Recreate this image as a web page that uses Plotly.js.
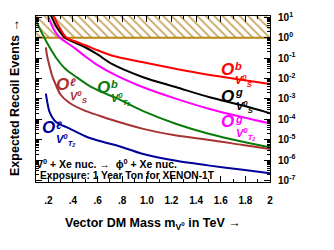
<!DOCTYPE html>
<html>
<head>
<meta charset="utf-8">
<script src="https://cdn.plot.ly/plotly-3.0.1.min.js"></script>
<style>html,body{margin:0;padding:0;background:#fff;}#chart{width:334px;height:250px;}</style>
</head>
<body>
<div id="chart"></div>
<script>
// ---- data (vector DM mass in TeV, expected recoil events per ton-year) ----
const redMass     = [0.24, 0.29, 0.343, 0.425, 0.506, 0.6, 0.72, 0.97, 1.24, 1.51, 1.78, 2.0];
const redEvents   = [12.6, 3.2, 1.05, 0.63, 0.41, 0.24, 0.13, 0.062, 0.029, 0.0148, 0.0085, 0.0054];

const blackMass   = [0.22, 0.27, 0.33, 0.425, 0.506, 0.6, 0.72, 0.97, 1.24, 1.51, 1.78, 2.0];
const blackEvents = [12.6, 3.2, 1.05, 0.54, 0.32, 0.15, 0.05, 0.0115, 0.0037, 0.0012, 4.7e-4, 2.0e-4];

const magentaMass   = [0.19, 0.24, 0.29, 0.36, 0.425, 0.506, 0.587, 0.75, 0.97, 1.24, 1.51, 1.78, 2.0];
const magentaEvents = [15.8, 2.8, 1.05, 0.52, 0.275, 0.112, 0.051, 0.0141, 0.0037, 1.0e-3, 3.2e-4, 1.26e-4, 6.3e-5];

const greenMass   = [0.10, 0.15, 0.21, 0.26, 0.34, 0.43, 0.53, 0.64, 0.75, 0.97, 1.24, 1.51, 1.78, 2.0];
const greenEvents = [6.8, 1.58, 0.34, 0.11, 0.029, 0.0115, 0.0045, 0.0021, 0.00112, 2.5e-4, 5.9e-5, 1.9e-5, 7.9e-6, 4.3e-6];

const brownMass   = [0.18, 0.19, 0.21, 0.23, 0.26, 0.3, 0.37, 0.5, 0.6, 0.7, 0.97, 1.24, 1.51, 1.78, 2.0];
const brownEvents = [0.33, 0.126, 0.04, 0.0141, 0.005, 0.0016, 6.5e-4, 2.6e-4, 1.6e-4, 1.0e-4, 3.4e-5, 1.6e-5, 9.8e-6, 5.5e-6, 3.5e-6];

const blueMass    = [0.18, 0.19, 0.21, 0.26, 0.37, 0.5, 0.64, 0.75, 0.97, 1.24, 1.51, 1.78, 2.0];
const blueEvents  = [1.8e-3, 7.9e-4, 2.3e-4, 7.6e-5, 3.6e-5, 1.48e-5, 7.9e-6, 5.4e-6, 2.0e-6, 9.3e-7, 5.4e-7, 3.4e-7, 2.3e-7];

// excluded region (>= 1 event)
const bandMass   = [0.1, 2.0, 2.0, 0.1];
const bandEvents = [1, 1, 100, 100];
const bandLineMass = [0.1, 2.0];
const bandLineEvents = [1, 1];

// tick labels
const xTickVals = [0.2, 0.4, 0.6, 0.8, 1.0, 1.2, 1.4, 1.6, 1.8, 2.0];
const xTickText = [".2", ".4", ".6", ".8", "1.0", "1.2", "1.4", "1.6", "1.8", "2"];
const yTickVals = [1e1, 1e0, 1e-1, 1e-2, 1e-3, 1e-4, 1e-5, 1e-6, 1e-7];
const yTickText = ["10<sup>1</sup>", "10<sup>0</sup>", "10<sup>-1</sup>", "10<sup>-2</sup>", "10<sup>-3</sup>",
                   "10<sup>-4</sup>", "10<sup>-5</sup>", "10<sup>-6</sup>", "10<sup>-7</sup>"];

// ---- figure ----
const FONT = "Liberation Sans, Arial, sans-serif";
const L = 36, R = 270, T = 16, B = 182;
const px = x => (x - L) / (R - L);
const py = y => (B - y) / (B - T);

function curve(x, y, color) {
  return {x: x, y: y, type: 'scatter', mode: 'lines', line: {color: color, width: 2, shape: 'spline', smoothing: 0.8},
          hoverinfo: 'skip', showlegend: false};
}

const traces = [
  {x: bandMass, y: bandEvents, type: 'scatter', mode: 'none', fill: 'toself', fillcolor: 'rgba(0,0,0,0)',
   fillpattern: {shape: '\\', fgcolor: '#c9a45c', bgcolor: '#ffffff', size: 6, solidity: 0.3},
   hoverinfo: 'skip', showlegend: false},
  {x: bandLineMass, y: bandLineEvents, type: 'scatter', mode: 'lines', line: {color: '#b8891a', width: 2},
   hoverinfo: 'skip', showlegend: false},
  curve(greenMass, greenEvents, '#0a7a0a'),
  curve(brownMass, brownEvents, '#a83232'),
  curve(blueMass, blueEvents, '#00009a'),
  curve(magentaMass, magentaEvents, '#ff00ff'),
  curve(blackMass, blackEvents, '#000000'),
  curve(redMass, redEvents, '#ff0000'),
];

function lab(x, y, text, color, size, anchor) {
  return {xref: 'paper', yref: 'paper', x: px(x), y: py(y), text: text, showarrow: false,
          xanchor: anchor || 'left', yanchor: 'middle', align: 'left', borderpad: 0,
          font: {family: FONT, size: size, color: color, weight: 'bold', style: 'italic'}};
}
function plain(x, y, text, size, anchor) {
  return {xref: 'paper', yref: 'paper', x: px(x), y: py(y), text: text, showarrow: false,
          xanchor: anchor || 'left', yanchor: 'middle', borderpad: 0,
          font: {family: FONT, size: size, color: '#000', weight: 'bold'}};
}
// operator label: big "O" plus a two-line block (superscript letter over the V0 subscript)
function opLabel(x, y, sup, sub, color) {
  return [
    lab(x, y, "O", color, 17),
    lab(x + 14, y + 5, sup + "<br>V<sup>0</sup><sub>" + sub + "</sub>", color, 11),
  ];
}

const annotations = [
  ...opLabel(220, 69, "b", "S", '#ff0000'),
  ...opLabel(220, 96, "g", "S", '#000000'),
  ...opLabel(220, 122, "g", "T<sub>2</sub>", '#ff00ff'),
  ...opLabel(96, 87, "b", "T<sub>2</sub>", '#0a7a0a'),
  ...opLabel(55, 85, "ℓ", "S", '#a83232'),
  ...opLabel(41, 128, "ℓ", "T<sub>2</sub>", '#00009a'),
  // process text
  plain(35, 163, "V<sup>0</sup> + Xe nuc. →  ϕ<sup>0</sup> + Xe nuc.", 10.5),
  plain(39, 175, "Exposure: 1 Year Ton for XENON-1T", 10.2),
  // axis titles
  {xref: 'paper', yref: 'paper', x: px(15), y: py(98), text: "Expected Recoil Events →", textangle: -90,
   showarrow: false, xanchor: 'center', yanchor: 'middle', font: {family: FONT, size: 12.5, color: '#000', weight: 'bold'}},
  {xref: 'paper', yref: 'paper', x: px(153), y: py(224), text: "Vector DM Mass m<sub>V<sup>0</sup></sub> in TeV →",
   showarrow: false, xanchor: 'center', yanchor: 'middle', font: {family: FONT, size: 12.5, color: '#000', weight: 'bold'}},
];

const layout = {
  width: 334, height: 250,
  margin: {l: L, r: 334 - R, t: T, b: 250 - B, pad: 0},
  paper_bgcolor: '#fff', plot_bgcolor: '#fff',
  showlegend: false,
  xaxis: {range: [0.1, 2.0], tickmode: 'array', tickvals: xTickVals, ticktext: xTickText,
          ticks: 'inside', ticklen: 6, tickwidth: 1, tickcolor: '#000',
          showline: true, linecolor: '#000', linewidth: 1, mirror: 'allticks',
          showgrid: false, zeroline: false, ticklabelstandoff: 9,
          minor: {ticks: 'inside', ticklen: 3, tickcolor: '#000', tickmode: 'linear', tick0: 0, dtick: 0.1},
          tickfont: {family: FONT, size: 10, color: '#000', weight: 'bold'}},
  yaxis: {type: 'log', side: 'right', range: [-7.07, 1.06], tickmode: 'array', tickvals: yTickVals, ticktext: yTickText,
          ticks: 'inside', ticklen: 6, tickwidth: 1, tickcolor: '#000',
          showline: true, linecolor: '#000', linewidth: 1, mirror: 'allticks',
          showgrid: false, zeroline: false, ticklabelstandoff: 5,
          minor: {ticks: 'inside', ticklen: 3, tickcolor: '#000', tickmode: 'linear', dtick: 'D1'},
          tickfont: {family: FONT, size: 10, color: '#000', weight: 'bold'}},
  annotations: annotations,
};

Plotly.newPlot('chart', traces, layout, {staticPlot: true, displayModeBar: false});
</script>
</body>
</html>
